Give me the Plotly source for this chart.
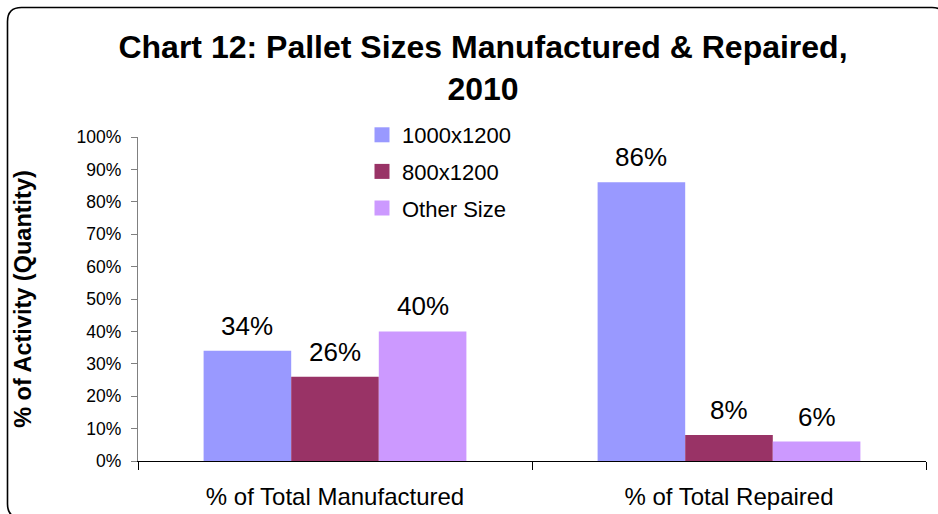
import plotly.graph_objects as go

# Chart data
categories = ["% of Total Manufactured", "% of Total Repaired"]
series_names = ["1000x1200", "800x1200", "Other Size"]
share_1000x1200 = [34, 86]
share_800x1200 = [26, 8]
share_other = [40, 6]
series_values = [share_1000x1200, share_800x1200, share_other]
series_colors = ["#9999FF", "#993366", "#CC99FF"]

y_ticks = list(range(0, 101, 10))
y_tick_labels = [f"{v}%" for v in y_ticks]

W, H = 938, 514
ML, MR, MT, MB = 138, 12, 137, 53
plot_w = W - ML - MR
plot_h = H - MT - MB
BARGAP = 0.333
FONT = "Arial, Liberation Sans, sans-serif"

fig = go.Figure()

for name, vals, col in zip(series_names, series_values, series_colors):
    fig.add_trace(go.Bar(
        x=categories, y=vals, name=name,
        marker=dict(color=col, line=dict(width=0)),
        showlegend=False,
    ))
    # legend swatch
    fig.add_trace(go.Scatter(
        x=[None], y=[None], mode="markers", name=name, legendgroup=name,
        marker=dict(symbol="square", size=15, color=col),
    ))

# value labels above each bar
slot = plot_w / len(categories)
bar_w = slot * (1 - BARGAP) / len(series_names)
for i, vals in enumerate(series_values):
    off = (i - (len(series_names) - 1) / 2) * bar_w
    for cat, v in zip(categories, vals):
        fig.add_annotation(
            x=cat, y=v, text=f"{v}%", showarrow=False,
            xshift=off, yshift=25, yanchor="middle",
            font=dict(family=FONT, size=26, color="#000000"),
        )


def px_x(p):
    return (p - ML) / plot_w


def px_y(p):
    return (H - MB - p) / plot_h


# rounded chart-area border
x0, y0, x1, y1, r = 7.5, 7.5, 946, 518, 14
path = (
    f"M {px_x(x0)},{px_y(y0 + r)} "
    f"Q {px_x(x0)},{px_y(y0)} {px_x(x0 + r)},{px_y(y0)} "
    f"L {px_x(x1 - r)},{px_y(y0)} "
    f"Q {px_x(x1)},{px_y(y0)} {px_x(x1)},{px_y(y0 + r)} "
    f"L {px_x(x1)},{px_y(y1 - r)} "
    f"Q {px_x(x1)},{px_y(y1)} {px_x(x1 - r)},{px_y(y1)} "
    f"L {px_x(x0 + r)},{px_y(y1)} "
    f"Q {px_x(x0)},{px_y(y1)} {px_x(x0)},{px_y(y1 - r)} Z"
)
fig.add_shape(type="path", xref="paper", yref="paper", path=path,
              line=dict(color="#000000", width=1.6), layer="below")

fig.update_layout(
    width=W, height=H,
    margin=dict(l=ML, r=MR, t=MT, b=MB, autoexpand=False),
    paper_bgcolor="white", plot_bgcolor="white",
    barmode="group", bargap=BARGAP, bargroupgap=0,
    font=dict(family=FONT, color="#000000"),
    title=dict(
        text="<b>Chart 12: Pallet Sizes Manufactured & Repaired,<br>2010</b>",
        x=483 / W, xanchor="center", y=1 - 58 / H, yanchor="middle",
        font=dict(family=FONT, size=32, color="#000000"),
        automargin=False,
    ),
    legend=dict(
        x=px_x(362), y=px_y(114), xanchor="left", yanchor="top",
        font=dict(family=FONT, size=22, color="#000000"),
        bgcolor="rgba(0,0,0,0)", traceorder="grouped", tracegroupgap=5,
        itemclick=False,
    ),
    xaxis=dict(
        type="category", showgrid=False, showline=True, linecolor="#000000",
        linewidth=1.3, ticks="outside", tickson="boundaries", ticklen=8,
        tickcolor="#000000", tickwidth=1.3,
        tickfont=dict(family=FONT, size=24, color="#000000"),
        ticklabelstandoff=14, automargin=False,
        fixedrange=True,
    ),
    yaxis=dict(
        range=[0, 100], tickvals=y_ticks, ticktext=y_tick_labels,
        showgrid=False, zeroline=False, showline=True, linecolor="#808080",
        linewidth=1.3, ticks="outside", ticklen=6, tickcolor="#808080",
        tickwidth=1.3, ticklabelstandoff=6, automargin=False,
        tickfont=dict(family=FONT, size=17.5, color="#000000"),
        title=dict(text="<b>% of Activity (Quantity)</b>", standoff=38,
                   font=dict(family=FONT, size=23.5, color="#000000")),
        fixedrange=True,
    ),
)

fig.write_html("out.html", config={"displayModeBar": False})
